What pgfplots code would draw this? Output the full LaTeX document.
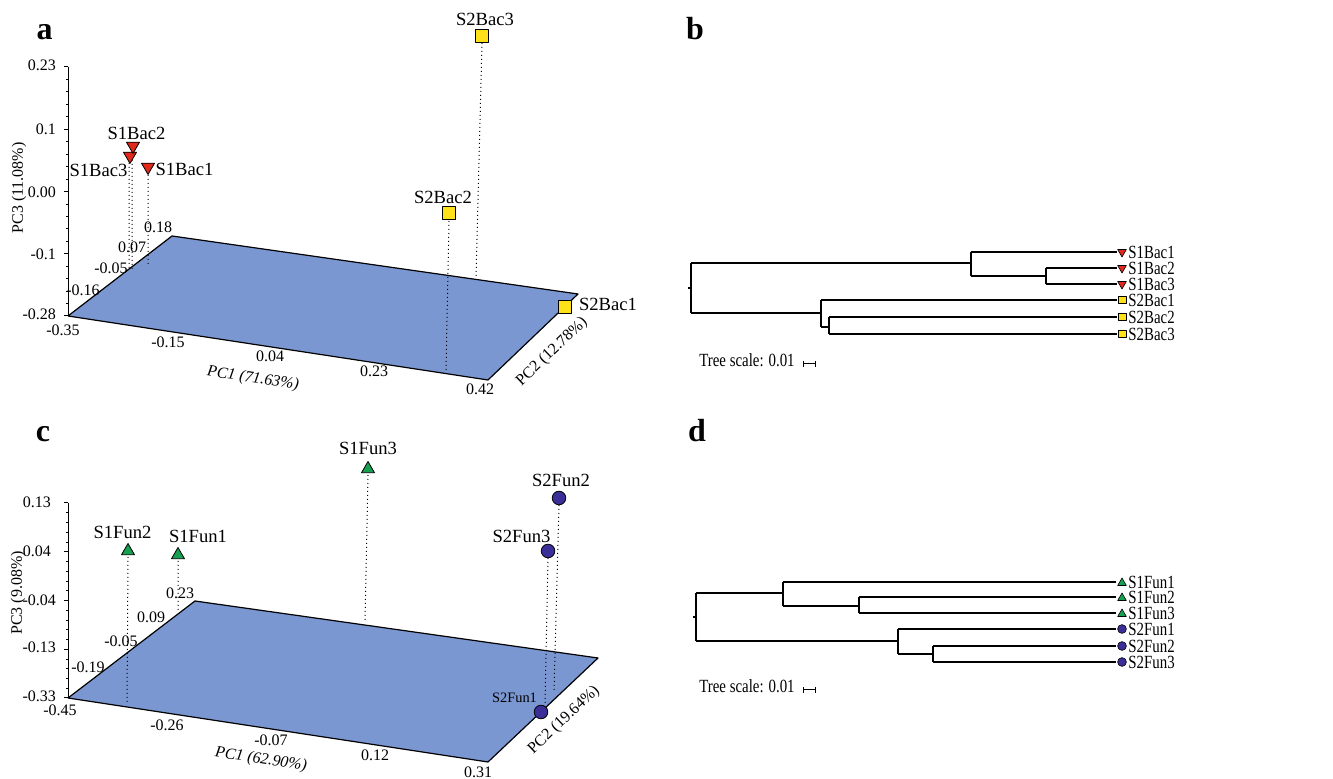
\documentclass[border=0pt]{standalone}
\usepackage{pgfplots}
\pgfplotsset{compat=1.18}
\usepackage{fontspec}
\setmainfont{Liberation Serif}
\newfontfamily\condfont[FakeStretch=0.8]{Liberation Serif}
\definecolor{plane}{HTML}{7B97D2}
\definecolor{bred}{HTML}{E0291B}
\definecolor{byel}{HTML}{FFE11A}
\definecolor{fgreen}{HTML}{17A052}
\definecolor{fnavy}{HTML}{3A2F98}
\newcommand{\lab}{\fontsize{9.3}{10}\selectfont}
\newcommand{\tck}{\fontsize{8}{9}\selectfont}
\newcommand{\trl}{\condfont\fontsize{9.3}{10}\selectfont}
\begin{document}
\begin{tikzpicture}
\begin{axis}[scale only axis, width=666.5pt, height=389.5pt,
  xmin=0, xmax=1333, ymin=0, ymax=779, y dir=reverse,
  hide axis, clip=false, unbounded coords=jump,
  every axis plot/.append style={line join=round}]
\coordinate (BL) at (axis cs:0,779);
\coordinate (TR) at (axis cs:1333,0);
% ================= panel a =================
\addplot[fill=plane, draw=black, line width=0.6pt] coordinates {(68,316) (172,236) (578,294) (488,380) (68,316)};
% vertical axis
\addplot[black, line width=0.5pt] coordinates {(68,67) (68,316)};
\addplot[black, line width=0.5pt] coordinates {(64,67) (68,67) (nan,nan) (64,129.25) (68,129.25) (nan,nan) (64,191.5) (68,191.5) (nan,nan) (64,253.75) (68,253.75) (nan,nan) (64,316) (68,316)};
\addplot[black, line width=0.4pt] coordinates {
(66,79.45) (68,79.45) (nan,nan) (66,91.9) (68,91.9) (nan,nan) (66,104.35) (68,104.35) (nan,nan) (66,116.8) (68,116.8) (nan,nan)
(66,141.7) (68,141.7) (nan,nan) (66,154.15) (68,154.15) (nan,nan) (66,166.6) (68,166.6) (nan,nan) (66,179.05) (68,179.05) (nan,nan)
(66,203.95) (68,203.95) (nan,nan) (66,216.4) (68,216.4) (nan,nan) (66,228.85) (68,228.85) (nan,nan) (66,241.3) (68,241.3) (nan,nan)
(66,266.2) (68,266.2) (nan,nan) (66,278.65) (68,278.65) (nan,nan) (66,291.1) (68,291.1) (nan,nan) (66,303.55) (68,303.55)};
% drop lines
\addplot[black, line width=0.5pt, dash pattern=on 0.5pt off 1.5pt] coordinates {(132,152) (132,272) (nan,nan) (129,163) (129,268) (nan,nan) (148,175) (148,266) (nan,nan) (482,43) (476,278) (nan,nan) (449,221) (446,370)};
% samples
\addplot[only marks, mark=triangle*, mark size=3.75pt, mark options={rotate=180, fill=bred, draw=black, line width=0.4pt}] coordinates {(148,167) (130,156) (133,146)};
\addplot[only marks, mark=square*, mark size=3.25pt, mark options={fill=byel, draw=black, line width=0.4pt}] coordinates {(565,307) (449,213) (482,36)};
% labels
\node[font=\lab] at (axis cs:136.5,133) {S1Bac2};
\node[font=\lab] at (axis cs:98.5,170) {S1Bac3};
\node[font=\lab] at (axis cs:184.5,169) {S1Bac1};
\node[font=\lab] at (axis cs:485,19) {S2Bac3};
\node[font=\lab] at (axis cs:443,197) {S2Bac2};
\node[font=\lab] at (axis cs:608,304) {S2Bac1};
% tick labels
\node[font=\tck, anchor=east] at (axis cs:63,65) {0.23};
\node[font=\tck, anchor=east] at (axis cs:63,129) {0.1};
\node[font=\tck, anchor=east] at (axis cs:63,192) {0.00};
\node[font=\tck, anchor=east] at (axis cs:63,254) {-0.1};
\node[font=\tck, anchor=east] at (axis cs:63,314) {-0.28};
\node[font=\tck] at (axis cs:63,330) {-0.35};
\node[font=\tck] at (axis cs:168,342) {-0.15};
\node[font=\tck] at (axis cs:270,356) {0.04};
\node[font=\tck] at (axis cs:374,371) {0.23};
\node[font=\tck] at (axis cs:480,389) {0.42};
\node[font=\tck] at (axis cs:83,290) {-0.16};
\node[font=\tck] at (axis cs:111,268) {-0.05};
\node[font=\tck] at (axis cs:132,247) {0.07};
\node[font=\tck] at (axis cs:158,227) {0.18};
\node[font=\tck, rotate=90] at (axis cs:19,188) {PC3 (11.08\%)};
\node[font=\tck\itshape, rotate=-8.7, inner sep=0pt] at (axis cs:253,379) {PC1 (71.63\%)};
\node[font=\tck, rotate=43.7, inner sep=0pt] at (axis cs:552,352) {PC2 (12.78\%)};
\node[font=\fontsize{16}{16}\selectfont\bfseries, anchor=base] at (axis cs:44.5,40) {a};
% ================= panel c =================
\addplot[fill=plane, draw=black, line width=0.6pt] coordinates {(68,698) (195,601) (598,658) (488,762) (68,698)};
\addplot[black, line width=0.5pt] coordinates {(68,503) (68,698)};
\addplot[black, line width=0.5pt] coordinates {(64,503) (68,503) (nan,nan) (64,551.75) (68,551.75) (nan,nan) (64,600.5) (68,600.5) (nan,nan) (64,649.25) (68,649.25) (nan,nan) (64,698) (68,698)};
\addplot[black, line width=0.4pt] coordinates {
(66,512.75) (68,512.75) (nan,nan) (66,522.5) (68,522.5) (nan,nan) (66,532.25) (68,532.25) (nan,nan) (66,542) (68,542) (nan,nan)
(66,561.5) (68,561.5) (nan,nan) (66,571.25) (68,571.25) (nan,nan) (66,581) (68,581) (nan,nan) (66,590.75) (68,590.75) (nan,nan)
(66,610.25) (68,610.25) (nan,nan) (66,620) (68,620) (nan,nan) (66,629.75) (68,629.75) (nan,nan) (66,639.5) (68,639.5) (nan,nan)
(66,659) (68,659) (nan,nan) (66,668.75) (68,668.75) (nan,nan) (66,678.5) (68,678.5) (nan,nan) (66,688.25) (68,688.25)};
\addplot[black, line width=0.5pt, dash pattern=on 0.5pt off 1.5pt] coordinates {(128,557) (127,702) (nan,nan) (178,561) (178,610) (nan,nan) (368,475) (365,621) (nan,nan) (559,505) (554,691) (nan,nan) (548,558) (545,703)};
\addplot[only marks, mark=triangle*, mark size=3.75pt, mark options={fill=fgreen, draw=black, line width=0.4pt}] coordinates {(128,551) (178,555) (368,469)};
\addplot[only marks, mark=*, mark size=3.4pt, mark options={fill=fnavy, draw=black, line width=0.4pt}] coordinates {(559,498) (548,551) (541,712)};
\node[font=\lab] at (axis cs:122.5,532) {S1Fun2};
\node[font=\lab] at (axis cs:198,536) {S1Fun1};
\node[font=\lab] at (axis cs:368,448) {S1Fun3};
\node[font=\lab] at (axis cs:561,480) {S2Fun2};
\node[font=\lab] at (axis cs:521.5,536) {S2Fun3};
\node[font=\fontsize{7.2}{8}\selectfont] at (axis cs:514.5,698) {S2Fun1};
\node[font=\tck, anchor=east] at (axis cs:58,502) {0.13};
\node[font=\tck, anchor=east] at (axis cs:58,551) {0.04};
\node[font=\tck, anchor=east] at (axis cs:63,600) {-0.04};
\node[font=\tck, anchor=east] at (axis cs:63,647) {-0.13};
\node[font=\tck, anchor=east] at (axis cs:63,696) {-0.33};
\node[font=\tck] at (axis cs:60,710) {-0.45};
\node[font=\tck] at (axis cs:167,725) {-0.26};
\node[font=\tck] at (axis cs:271,740) {-0.07};
\node[font=\tck] at (axis cs:375,755) {0.12};
\node[font=\tck] at (axis cs:478,772) {0.31};
\node[font=\tck] at (axis cs:88,667) {-0.19};
\node[font=\tck] at (axis cs:121,641) {-0.05};
\node[font=\tck] at (axis cs:151,617) {0.09};
\node[font=\tck] at (axis cs:180,593) {0.23};
\node[font=\tck, rotate=90] at (axis cs:18,593) {PC3 (9.08\%)};
\node[font=\tck\itshape, rotate=-8.7, inner sep=0pt] at (axis cs:261,760) {PC1 (62.90\%)};
\node[font=\tck, rotate=43.4, inner sep=0pt] at (axis cs:564,720) {PC2 (19.64\%)};
\node[font=\fontsize{16}{16}\selectfont\bfseries, anchor=base] at (axis cs:43,442) {c};
% ================= panel b =================
\addplot[black, line width=0.6pt] coordinates {
(688,288) (691,288) (nan,nan)
(691,263) (691,313) (nan,nan)
(691,263) (971,263) (nan,nan)
(971,252) (971,276) (nan,nan)
(971,252) (1117,252) (nan,nan)
(971,276) (1046,276) (nan,nan)
(1046,268) (1046,284) (nan,nan)
(1046,268) (1117,268) (nan,nan)
(1046,284) (1117,284) (nan,nan)
(691,313) (821,313) (nan,nan)
(821,300) (821,327) (nan,nan)
(821,300) (1117,300) (nan,nan)
(821,327) (829,327) (nan,nan)
(829,317) (829,334) (nan,nan)
(829,317) (1117,317) (nan,nan)
(829,334) (1117,334)};
\addplot[only marks, mark=triangle*, mark size=2.5pt, mark options={rotate=180, fill=bred, draw=black, line width=0.3pt}] coordinates {(1122,252) (1122,268) (1122,284)};
\addplot[only marks, mark=square*, mark size=1.9pt, mark options={fill=byel, draw=black, line width=0.3pt}] coordinates {(1122,300) (1122,317) (1122,334)};
\node[font=\trl, anchor=west, inner sep=0pt] at (axis cs:1128,252) {S1Bac1};
\node[font=\trl, anchor=west, inner sep=0pt] at (axis cs:1128,268) {S1Bac2};
\node[font=\trl, anchor=west, inner sep=0pt] at (axis cs:1128,284) {S1Bac3};
\node[font=\trl, anchor=west, inner sep=0pt] at (axis cs:1128,300) {S2Bac1};
\node[font=\trl, anchor=west, inner sep=0pt] at (axis cs:1128,317) {S2Bac2};
\node[font=\trl, anchor=west, inner sep=0pt] at (axis cs:1128,334) {S2Bac3};
\node[font=\trl] at (axis cs:747,360) {Tree scale: 0.01};
\addplot[black, line width=0.5pt] coordinates {(803,364) (815,364) (nan,nan) (803,361) (803,367) (nan,nan) (815,361) (815,367)};
\node[font=\fontsize{16}{16}\selectfont\bfseries, anchor=base] at (axis cs:695,40) {b};
% ================= panel d =================
\addplot[black, line width=0.6pt] coordinates {
(693,617) (696,617) (nan,nan)
(696,593) (696,641) (nan,nan)
(696,593) (783,593) (nan,nan)
(783,582) (783,606) (nan,nan)
(783,582) (1116,582) (nan,nan)
(783,606) (859,606) (nan,nan)
(859,597) (859,613) (nan,nan)
(859,597) (1116,597) (nan,nan)
(859,613) (1116,613) (nan,nan)
(696,641) (898,641) (nan,nan)
(898,629) (898,654) (nan,nan)
(898,629) (1116,629) (nan,nan)
(898,654) (933,654) (nan,nan)
(933,646) (933,662) (nan,nan)
(933,646) (1116,646) (nan,nan)
(933,662) (1116,662)};
\addplot[only marks, mark=triangle*, mark size=2.5pt, mark options={fill=fgreen, draw=black, line width=0.3pt}] coordinates {(1122,583) (1122,598) (1122,614)};
\addplot[only marks, mark=*, mark size=2.2pt, mark options={fill=fnavy, draw=black, line width=0.3pt}] coordinates {(1122,629) (1122,646) (1122,662)};
\node[font=\trl, anchor=west, inner sep=0pt] at (axis cs:1128,582) {S1Fun1};
\node[font=\trl, anchor=west, inner sep=0pt] at (axis cs:1128,597) {S1Fun2};
\node[font=\trl, anchor=west, inner sep=0pt] at (axis cs:1128,613) {S1Fun3};
\node[font=\trl, anchor=west, inner sep=0pt] at (axis cs:1128,629) {S2Fun1};
\node[font=\trl, anchor=west, inner sep=0pt] at (axis cs:1128,646) {S2Fun2};
\node[font=\trl, anchor=west, inner sep=0pt] at (axis cs:1128,662) {S2Fun3};
\node[font=\trl] at (axis cs:747,686) {Tree scale: 0.01};
\addplot[black, line width=0.5pt] coordinates {(803,690) (815,690) (nan,nan) (803,687) (803,693) (nan,nan) (815,687) (815,693)};
\node[font=\fontsize{16}{16}\selectfont\bfseries, anchor=base] at (axis cs:697,442) {d};
\end{axis}
\pgfresetboundingbox
\useasboundingbox (BL) rectangle (TR);
\end{tikzpicture}
\end{document}
